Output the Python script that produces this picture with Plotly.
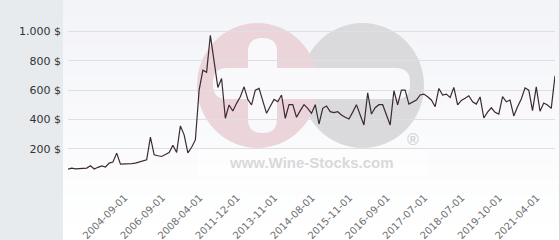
import plotly.graph_objects as go

DATES = [
    "2003-04-01", "2003-05-01", "2003-06-01", "2003-07-01", "2003-08-01", "2003-09-01",
    "2003-10-01", "2003-11-01", "2003-12-01", "2004-01-01", "2004-02-01", "2004-03-01",
    "2004-04-01", "2004-05-01", "2004-06-01", "2004-07-01", "2004-08-01", "2004-09-01",
    "2004-12-01", "2005-02-01", "2005-05-01", "2005-07-01", "2005-10-01", "2005-12-01",
    "2006-03-01", "2006-05-01", "2006-07-01", "2006-09-01",
    "2006-11-01", "2007-01-01", "2007-03-01", "2007-05-01", "2007-07-01", "2007-09-01",
    "2007-11-01", "2008-01-01", "2008-02-01", "2008-04-01",
    "2008-09-01", "2009-01-01", "2009-06-01", "2009-10-01", "2010-03-01", "2010-07-01",
    "2010-11-01", "2011-04-01", "2011-08-01", "2011-12-01",
    "2012-02-01", "2012-05-01", "2012-07-01", "2012-09-01", "2012-11-01", "2013-02-01",
    "2013-04-01", "2013-06-01", "2013-09-01", "2013-11-01",
    "2013-12-01", "2013-12-15", "2014-01-01", "2014-02-01", "2014-03-01", "2014-04-01",
    "2014-05-01", "2014-06-01", "2014-07-01", "2014-08-01",
    "2014-10-01", "2014-11-01", "2015-01-01", "2015-02-01", "2015-04-01", "2015-05-01",
    "2015-07-01", "2015-08-01", "2015-10-01", "2015-11-01",
    "2015-12-01", "2016-01-01", "2016-02-01", "2016-03-01", "2016-04-01", "2016-05-01",
    "2016-06-01", "2016-07-01", "2016-08-01", "2016-09-01",
    "2016-10-01", "2016-11-01", "2016-12-01", "2017-01-01", "2017-02-01", "2017-03-01",
    "2017-04-01", "2017-05-01", "2017-06-01", "2017-07-01",
    "2017-08-01", "2017-09-01", "2017-10-01", "2017-11-01", "2018-01-01", "2018-02-01",
    "2018-03-01", "2018-04-01", "2018-06-01", "2018-07-01",
    "2018-09-01", "2018-10-01", "2018-11-01", "2019-01-01", "2019-02-01", "2019-04-01",
    "2019-05-01", "2019-06-01", "2019-08-01", "2019-10-01",
    "2019-12-01", "2020-02-01", "2020-04-01", "2020-05-01", "2020-07-01", "2020-09-01",
    "2020-10-01", "2020-12-01", "2021-02-01", "2021-04-01",
    "2021-06-01", "2021-08-01", "2021-10-01",
]

PRICES = [
    61, 68, 62, 63, 65, 68, 84, 61, 73, 82,
    75, 102, 109, 170, 95, 95, 95, 98, 102, 108,
    113, 124, 279, 158, 152, 147, 160, 174, 224, 174,
    356, 295, 172, 210, 260, 600, 737, 723, 975, 794,
    619, 680, 408, 499, 458, 510, 555, 623, 537, 499,
    600, 612, 521, 442, 490, 537, 521, 567, 408, 501,
    501, 415, 460, 501, 476, 442, 501, 369, 476, 492,
    453, 447, 453, 430, 415, 403, 450, 501, 430, 362,
    582, 437, 480, 501, 501, 430, 362, 596, 499, 600,
    600, 505, 520, 533, 567, 573, 555, 533, 487, 612,
    567, 573, 550, 619, 499, 530, 545, 562, 521, 505,
    554, 410, 450, 480, 449, 437, 556, 521, 533, 424,
    487, 540, 616, 600, 460, 623, 456, 512, 499, 476,
    698,
]

X_TICK_LABELS = [
    "2004-09-01", "2006-09-01", "2008-04-01", "2011-12-01", "2013-11-01", "2014-08-01",
    "2015-11-01", "2016-09-01", "2017-07-01", "2018-07-01", "2019-10-01", "2021-04-01",
]

Y_TICK_VALUES = [0, 200, 400, 600, 800, 1000]
Y_TICK_LABELS = ["", "200 $", "400 $", "600 $", "800 $", "1.000 $"]

# ---- layout geometry (pixels) ----
W, H = 560, 240
ML, MR, MT, MB = 68, 5, 17, 62
PW = W - ML - MR
PH = H - MT - MB


def fx(x):
    return (x - ML) / PW


def fy(y):
    return (H - MB - y) / PH


def rrect(x0, y0, x1, y1, r):
    X = lambda v: f"{fx(v):.5f}"
    Y = lambda v: f"{fy(v):.5f}"
    return (f"M {X(x0 + r)},{Y(y0)} L {X(x1 - r)},{Y(y0)} Q {X(x1)},{Y(y0)} {X(x1)},{Y(y0 + r)} "
            f"L {X(x1)},{Y(y1 - r)} Q {X(x1)},{Y(y1)} {X(x1 - r)},{Y(y1)} "
            f"L {X(x0 + r)},{Y(y1)} Q {X(x0)},{Y(y1)} {X(x0)},{Y(y1 - r)} "
            f"L {X(x0)},{Y(y0 + r)} Q {X(x0)},{Y(y0)} {X(x0 + r)},{Y(y0)} Z")


shapes = []
# gradient background to the right of the grey panel
n = 16
top = (243, 244, 248)
bot = (255, 255, 255)
for k in range(n):
    t = k / (n - 1)
    c = tuple(round(top[j] + (bot[j] - top[j]) * t) for j in range(3))
    y0 = H * k / n
    y1 = H * (k + 1) / n + 0.5
    shapes.append(dict(type="rect", xref="paper", yref="paper", layer="below",
                       x0=fx(63), x1=fx(W), y0=fy(y1), y1=fy(y0),
                       fillcolor=f"rgb{c}", line=dict(width=0)))
# grey left panel
shapes.append(dict(type="rect", xref="paper", yref="paper", layer="below",
                   x0=fx(0), x1=fx(63), y0=fy(H), y1=fy(0),
                   fillcolor="#e8ebee", line=dict(width=0)))
# right border line
shapes.append(dict(type="line", xref="paper", yref="paper", layer="below",
                   x0=fx(559.5), x1=fx(559.5), y0=fy(H), y1=fy(0),
                   line=dict(color="#d8d8d8", width=1)))
# watermark circles
shapes.append(dict(type="circle", xref="paper", yref="paper", layer="below",
                   x0=fx(301), x1=fx(424), y0=fy(148), y1=fy(23),
                   fillcolor="#dadadc", line=dict(width=0)))
shapes.append(dict(type="circle", xref="paper", yref="paper", layer="below",
                   x0=fx(197), x1=fx(318), y0=fy(148), y1=fy(23),
                   fillcolor="#ecd4db", line=dict(width=0)))
# white plus / minus bars
shapes.append(dict(type="path", xref="paper", yref="paper", layer="below",
                   path=rrect(213, 68, 410, 99, 14), fillcolor="#f9f9fb", line=dict(width=0)))
shapes.append(dict(type="path", xref="paper", yref="paper", layer="below",
                   path=rrect(248, 38, 277, 133, 14), fillcolor="#f9f9fb", line=dict(width=0)))
# whitish band behind the url text
shapes.append(dict(type="rect", xref="paper", yref="paper", layer="below",
                   x0=fx(197), x1=fx(428), y0=fy(176), y1=fy(150),
                   fillcolor="rgba(255,255,255,0.6)", line=dict(width=0)))

annotations = [
    dict(text="www.Wine-Stocks.com", xref="paper", yref="paper", x=fx(311), y=fy(162),
         showarrow=False,
         font=dict(family="Liberation Sans", size=15, color="#d9d9db", weight="bold"),
         xanchor="center", yanchor="middle"),
    dict(text="®", xref="paper", yref="paper", x=fx(413), y=fy(139),
         showarrow=False,
         font=dict(family="Liberation Sans", size=16, color="#d4d4d6", weight="bold"),
         xanchor="center", yanchor="middle"),
]

fig = go.Figure()
fig.add_trace(go.Scatter(
    x=DATES, y=PRICES, mode="lines",
    line=dict(color="#3b2a31", width=1.2),
    hoverinfo="x+y",
))

fig.update_layout(
    width=W, height=H,
    margin=dict(l=ML, r=MR, t=MT, b=MB, pad=0, autoexpand=False),
    paper_bgcolor="white",
    plot_bgcolor="rgba(0,0,0,0)",
    showlegend=False,
    shapes=shapes,
    annotations=annotations,
    font=dict(family="DejaVu Sans"),
    xaxis=dict(
        type="category", range=[0, len(DATES) - 1], automargin=False,
        tickmode="array", tickvals=X_TICK_LABELS, ticktext=X_TICK_LABELS,
        tickangle=-45, tickfont=dict(size=10, color="#6e6e6e", family="DejaVu Sans"),
        showgrid=False, zeroline=False, showline=False, ticks="",
        ticklabelstandoff=11, ticklabelshift=-7,
    ),
    yaxis=dict(
        range=[0, 1100], automargin=False,
        tickmode="array", tickvals=Y_TICK_VALUES, ticktext=Y_TICK_LABELS,
        tickfont=dict(size=11, color="#333333", family="DejaVu Sans"),
        showgrid=True, gridcolor="#dfdfe3", gridwidth=1,
        zeroline=False, showline=False, ticks="",
        ticklabelstandoff=6,
    ),
)

fig.write_html("out.html")
